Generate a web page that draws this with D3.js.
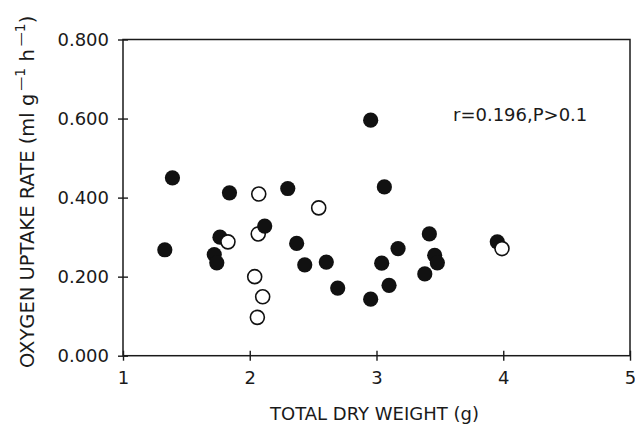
<!DOCTYPE html>
<html>
<head>
<meta charset="utf-8">
<script src="https://cdn.jsdelivr.net/npm/d3@7"></script>
<style>
  body { margin: 0; background: #fff; }
  text { font-family: "DejaVu Sans", sans-serif; fill: #1a1a1a; }
</style>
</head>
<body>
<script>
// data
var filledWeight = [1.33, 1.39, 1.72, 1.74, 1.765, 1.84, 2.118, 2.30, 2.37, 2.434, 2.604, 2.694,
                    2.954, 2.954, 3.062, 3.041, 3.099, 3.17, 3.381, 3.417, 3.459, 3.48, 3.953];
var filledRate   = [0.268, 0.450, 0.256, 0.235, 0.300, 0.412, 0.328, 0.423, 0.284, 0.230, 0.237, 0.171,
                    0.596, 0.143, 0.427, 0.234, 0.178, 0.271, 0.207, 0.308, 0.254, 0.235, 0.288];
var openWeight = [2.071, 2.067, 1.828, 2.039, 2.102, 2.06, 2.544, 3.99];
var openRate   = [0.409, 0.308, 0.288, 0.200, 0.149, 0.097, 0.374, 0.271];
var xTicks = [1, 2, 3, 4, 5];
var yTicks = [0, 0.2, 0.4, 0.6, 0.8];
var note = "r=0.196,P>0.1";

// set the dimensions and margins of the graph
var margin = {top: 39.5, right: 5, bottom: 69.3, left: 123},
    width = 635 - margin.left - margin.right,
    height = 425 - margin.top - margin.bottom;

var x = d3.scaleLinear().domain([1, 5]).range([0, width]);
var y = d3.scaleLinear().domain([0, 0.8]).range([height, 0]);

var svg = d3.select("body").append("svg")
    .attr("width", 635)
    .attr("height", 425)
  .append("g")
    .attr("transform", "translate(" + margin.left + "," + margin.top + ")");

// frame round the plot
svg.append("rect")
    .attr("x", 0).attr("y", 0)
    .attr("width", width).attr("height", height)
    .style("fill", "none")
    .style("stroke", "#1a1a1a")
    .style("stroke-width", 1.5);

// x axis, ticks crossing the line
var xAxis = svg.append("g")
    .attr("transform", "translate(0," + height + ")")
    .call(d3.axisBottom(x).tickValues(xTicks).tickFormat(d3.format("d")).tickSize(5).tickPadding(11));
xAxis.select(".domain").remove();
xAxis.selectAll(".tick line").attr("y1", -5).attr("y2", 5)
    .style("stroke", "#1a1a1a").style("stroke-width", 1.4);
xAxis.selectAll(".tick text").style("font-size", "18px").style("font-family", "DejaVu Sans").attr("fill", "#1a1a1a");

// y axis
var yAxis = svg.append("g")
    .call(d3.axisLeft(y).tickValues(yTicks).tickFormat(d3.format(".3f")).tickSize(5).tickPadding(9));
yAxis.select(".domain").remove();
yAxis.selectAll(".tick line").attr("x1", -5).attr("x2", 5)
    .style("stroke", "#1a1a1a").style("stroke-width", 1.4);
yAxis.selectAll(".tick text").style("font-size", "18px").style("font-family", "DejaVu Sans").attr("fill", "#1a1a1a");

// axis titles
svg.append("text")
    .attr("x", 147).attr("y", 420 - margin.top)
    .style("font-size", "18px")
    .text("TOTAL DRY WEIGHT (g)");

var yt = svg.append("text")
    .attr("transform", "translate(" + (34 - margin.left) + "," + (368 - margin.top) + ") rotate(-90)")
    .style("font-size", "19.5px");
yt.append("tspan").text("OXYGEN UPTAKE RATE (ml g");
yt.append("tspan").attr("dx", 3).attr("dy", -9).style("font-size", "14px").text("\u20141");
yt.append("tspan").attr("dy", 9).text(" h");
yt.append("tspan").attr("dx", 3).attr("dy", -9).style("font-size", "14px").text("\u20141");
yt.append("tspan").attr("dy", 9).text(")");

// annotation
svg.append("text")
    .attr("x", 453 - margin.left).attr("y", 121 - margin.top)
    .style("font-size", "18px")
    .text(note);

// points, drawn in order of weight so overlaps stack as in the figure
var points = filledWeight.map(function(d, i) { return {w: d, r: filledRate[i], open: false}; })
    .concat(openWeight.map(function(d, i) { return {w: d, r: openRate[i], open: true}; }))
    .sort(function(a, b) { return a.w - b.w; });

svg.selectAll("circle.pt")
    .data(points)
  .enter().append("circle")
    .attr("class", "pt")
    .attr("cx", function(d) { return x(d.w); })
    .attr("cy", function(d) { return y(d.r); })
    .attr("r", function(d) { return d.open ? 7 : 7.6; })
    .style("fill", function(d) { return d.open ? "#fff" : "#111"; })
    .style("stroke", function(d) { return d.open ? "#111" : "none"; })
    .style("stroke-width", 1.6);
</script>
</body>
</html>
